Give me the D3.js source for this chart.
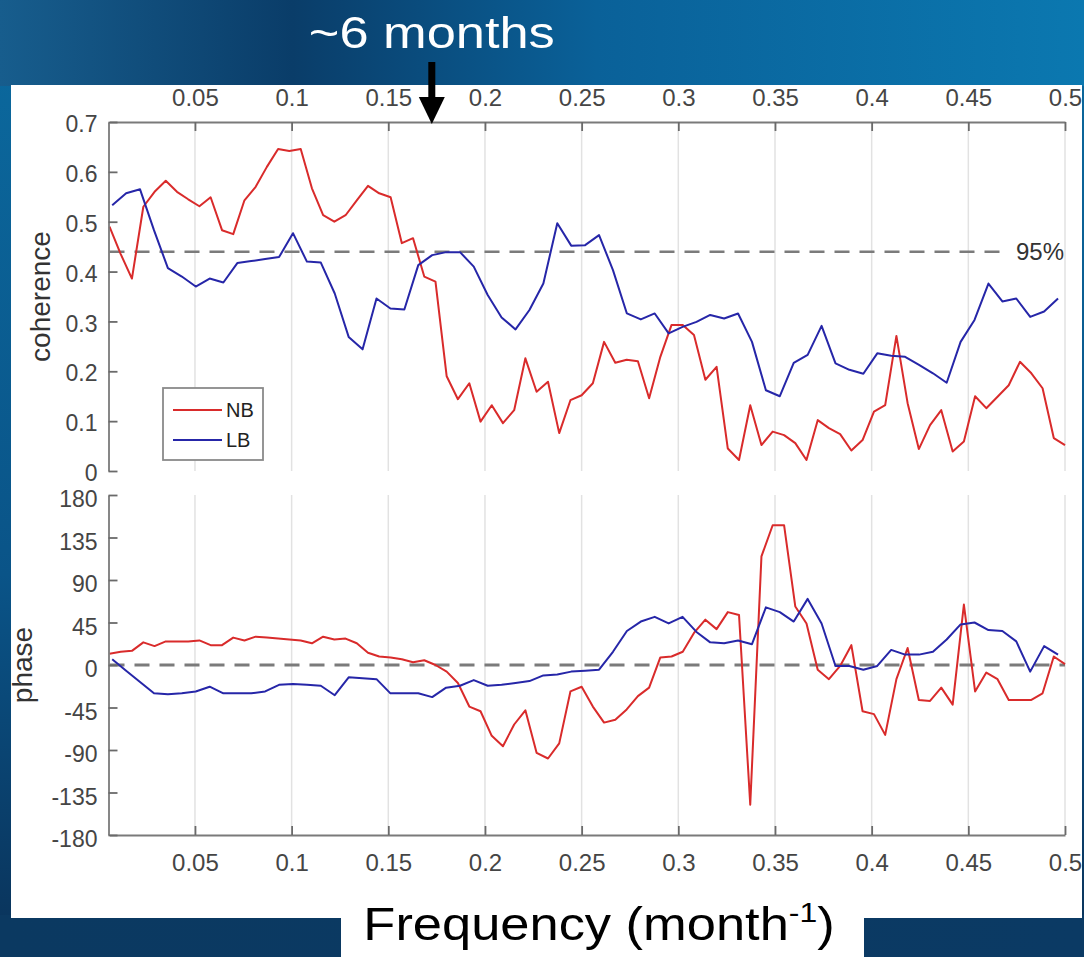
<!DOCTYPE html>
<html>
<head>
<meta charset="utf-8">
<script src="https://cdn.jsdelivr.net/npm/d3@7"></script>
<style>
  body { margin: 0; background: #0a4a7a; }
  svg { display: block; }
</style>
</head>
<body>
<svg id="chart" width="1084" height="957"></svg>
<script>
// frequencies (month^-1) of the two estimates
const nbFreq = [0.0058, 0.0116, 0.0174, 0.0233, 0.0291, 0.0349, 0.0407, 0.0465, 0.0523, 0.0581,
  0.0640, 0.0698, 0.0756, 0.0814, 0.0872, 0.0930, 0.0988, 0.1047, 0.1105, 0.1163,
  0.1221, 0.1279, 0.1337, 0.1395, 0.1453, 0.1512, 0.1570, 0.1628, 0.1686, 0.1744,
  0.1802, 0.1860, 0.1919, 0.1977, 0.2035, 0.2093, 0.2151, 0.2209, 0.2267, 0.2326,
  0.2384, 0.2442, 0.2500, 0.2558, 0.2616, 0.2674, 0.2733, 0.2791, 0.2849, 0.2907,
  0.2965, 0.3023, 0.3081, 0.3140, 0.3198, 0.3256, 0.3314, 0.3372, 0.3430, 0.3488,
  0.3547, 0.3605, 0.3663, 0.3721, 0.3779, 0.3837, 0.3895, 0.3953, 0.4012, 0.4070,
  0.4128, 0.4186, 0.4244, 0.4302, 0.4360, 0.4419, 0.4477, 0.4535, 0.4593, 0.4651,
  0.4709, 0.4767, 0.4826, 0.4884, 0.4942, 0.5000];
const lbFreq = [0.0072, 0.0144, 0.0216, 0.0288, 0.0360, 0.0432, 0.0504, 0.0576, 0.0647, 0.0719,
  0.0791, 0.0863, 0.0935, 0.1007, 0.1079, 0.1151, 0.1223, 0.1295, 0.1367, 0.1439,
  0.1511, 0.1583, 0.1655, 0.1727, 0.1799, 0.1871, 0.1942, 0.2014, 0.2086, 0.2158,
  0.2230, 0.2302, 0.2374, 0.2446, 0.2518, 0.2590, 0.2662, 0.2734, 0.2806, 0.2878,
  0.2950, 0.3022, 0.3094, 0.3165, 0.3237, 0.3309, 0.3381, 0.3453, 0.3525, 0.3597,
  0.3669, 0.3741, 0.3813, 0.3885, 0.3957, 0.4029, 0.4101, 0.4173, 0.4245, 0.4317,
  0.4388, 0.4460, 0.4532, 0.4604, 0.4676, 0.4748, 0.4820, 0.4892, 0.4964];

// coherence
const nbCoh = [0.49, 0.435, 0.386, 0.53, 0.56, 0.582, 0.56, 0.545, 0.531, 0.549,
  0.483, 0.475, 0.543, 0.57, 0.61, 0.646, 0.642, 0.646, 0.567, 0.513,
  0.50, 0.513, 0.543, 0.572, 0.557, 0.549, 0.457, 0.467, 0.39, 0.38,
  0.19, 0.144, 0.176, 0.099, 0.132, 0.096, 0.122, 0.226, 0.159, 0.179,
  0.076, 0.142, 0.152, 0.176, 0.259, 0.217, 0.223, 0.22, 0.146, 0.229,
  0.293, 0.293, 0.273, 0.183, 0.209, 0.045, 0.022, 0.132, 0.052, 0.079,
  0.072, 0.056, 0.022, 0.102, 0.086, 0.074, 0.041, 0.062, 0.119, 0.132,
  0.271, 0.136, 0.044, 0.092, 0.122, 0.039, 0.059, 0.150, 0.126, 0.149,
  0.172, 0.219, 0.196, 0.166, 0.066, 0.052];
const lbCoh = [0.533, 0.557, 0.565, 0.483, 0.407, 0.39, 0.37, 0.386, 0.378, 0.417,
  0.421, 0.425, 0.429, 0.477, 0.42, 0.418, 0.356, 0.269, 0.244, 0.346,
  0.326, 0.324, 0.413, 0.433, 0.439, 0.439, 0.41, 0.353, 0.308, 0.284,
  0.323, 0.376, 0.497, 0.452, 0.453, 0.473, 0.403, 0.316, 0.304, 0.316,
  0.276, 0.289, 0.299, 0.313, 0.306, 0.316, 0.259, 0.162, 0.150, 0.217,
  0.233, 0.291, 0.216, 0.203, 0.195, 0.236, 0.231, 0.229, 0.213, 0.196,
  0.177, 0.259, 0.303, 0.376, 0.34, 0.346, 0.309, 0.32, 0.346];

// phase (degrees)
const nbPhase = [12, 14, 15, 24, 20, 25, 25, 25, 26, 21,
  21, 29, 26, 30, 29, 28, 27, 26, 23, 30,
  27, 28, 23, 13, 9, 8, 6, 3, 5, 0,
  -7, -19, -44, -49, -75, -86, -63, -48, -93, -99,
  -83, -28, -23, -44, -61, -58, -47, -33, -24, 8,
  9, 14, 34, 48, 38, 56, 53, -148, 115, 148,
  148, 62, 44, -5, -15, -1, 21, -49, -52, -74,
  -15, 18, -37, -38, -24, -42, 64, -28, -8, -15,
  -37, -37, -37, -30, 9, 1];
const lbPhase = [6, -6, -18, -30, -31, -30, -28, -23, -30, -30,
  -30, -28, -21, -20, -21, -22, -32, -13, -14, -15,
  -30, -30, -30, -34, -24, -22, -16, -22, -21, -19,
  -17, -11, -10, -7, -6, -5, 14, 36, 46, 51,
  44, 51, 35, 24, 23, 26, 22, 61, 56, 46,
  70, 44, -1, -1, -5, -1, 16, 11, 11, 14,
  27, 43, 45, 37, 36, 25, -7, 20, 11];

const seriesNames = ["NB", "LB"];
const xTicks = [0.05, 0.1, 0.15, 0.2, 0.25, 0.3, 0.35, 0.4, 0.45, 0.5];
const cohTicks = [0, 0.1, 0.2, 0.3, 0.4, 0.5, 0.6, 0.7];
const phaseTicks = [-180, -135, -90, -45, 0, 45, 90, 135, 180];
const sigLevel = 0.44;        // 95% coherence level
const sigLabel = "95%";
const arrowFreq = 0.1725;     // ~6 months marker

const colors = { NB: "#d92b2b", LB: "#2626a8" };
const font = "'Liberation Sans', Arial, sans-serif";

const svg = d3.select("#chart");
const defs = svg.append("defs");

//background
let bgV = defs.append("linearGradient").attr("id", "bgV")
  .attr("x1", 0).attr("y1", 0).attr("x2", 0).attr("y2", 1);
bgV.append("stop").attr("offset", 0).attr("stop-color", "#0b6a9f");
bgV.append("stop").attr("offset", 0.6).attr("stop-color", "#0a5488");
bgV.append("stop").attr("offset", 1).attr("stop-color", "#0a3259");
let bgTop = defs.append("linearGradient").attr("id", "bgTop")
  .attr("x1", 0).attr("y1", 0).attr("x2", 1).attr("y2", 0);
bgTop.append("stop").attr("offset", 0).attr("stop-color", "#175d8d");
bgTop.append("stop").attr("offset", 0.27).attr("stop-color", "#0a3d69");
bgTop.append("stop").attr("offset", 0.55).attr("stop-color", "#0a6199");
bgTop.append("stop").attr("offset", 1).attr("stop-color", "#0b78b0");
let bgBot = defs.append("linearGradient").attr("id", "bgBot")
  .attr("x1", 0).attr("y1", 0).attr("x2", 1).attr("y2", 0);
bgBot.append("stop").attr("offset", 0).attr("stop-color", "#0b3961");
bgBot.append("stop").attr("offset", 1).attr("stop-color", "#0b3a64");

svg.append("rect").attr("width", 1084).attr("height", 957).attr("fill", "url(#bgV)");
svg.append("rect").attr("width", 1084).attr("height", 86).attr("fill", "url(#bgTop)");
svg.append("rect").attr("y", 915).attr("width", 1084).attr("height", 42).attr("fill", "url(#bgBot)");

// white panels
svg.append("rect").attr("x", 11).attr("y", 85).attr("width", 1071).attr("height", 833).attr("fill", "#fff");
svg.append("rect").attr("x", 341).attr("y", 910).attr("width", 523).attr("height", 47).attr("fill", "#fff");

// scales
const x = d3.scaleLinear().domain([0.0058, 0.5]).range([109.5, 1065]);
const yCoh = d3.scaleLinear().domain([0, 0.7]).range([471, 122]);
const yPh = d3.scaleLinear().domain([-180, 180]).range([835, 495]);

//grid lines
let drawGrid = (y0, y1) => {
  svg.append("g").selectAll("line").data(xTicks).join("line")
    .attr("x1", d => x(d)).attr("x2", d => x(d))
    .attr("y1", y0).attr("y2", y1)
    .attr("stroke", "#e2e2e2").attr("stroke-width", 1.5);
};
drawGrid(yCoh(0.7), yCoh(0));
drawGrid(yPh(180), yPh(-180));

// dashed reference lines
svg.append("line")
  .attr("x1", x.range()[0]).attr("x2", x(0.468))
  .attr("y1", yCoh(sigLevel)).attr("y2", yCoh(sigLevel))
  .attr("stroke", "#7b7b7b").attr("stroke-width", 2.5).attr("stroke-dasharray", "15,10");
svg.append("text")
  .attr("x", x(0.5) - 1).attr("y", yCoh(sigLevel)).attr("dy", "0.36em")
  .attr("text-anchor", "end").attr("font-family", font).attr("font-size", 24)
  .attr("fill", "#333").text(sigLabel);
svg.append("line")
  .attr("x1", x.range()[0]).attr("x2", x(0.5))
  .attr("y1", yPh(0)).attr("y2", yPh(0))
  .attr("stroke", "#7b7b7b").attr("stroke-width", 3).attr("stroke-dasharray", "15,10");

// data lines
const cohLine = d3.line().x(d => x(d[0])).y(d => yCoh(d[1]));
const phLine = d3.line().x(d => x(d[0])).y(d => yPh(d[1]));
const series = [
  { name: "NB", freq: nbFreq, coh: nbCoh, ph: nbPhase },
  { name: "LB", freq: lbFreq, coh: lbCoh, ph: lbPhase }
];
series.forEach(s => {
  svg.append("path").datum(d3.zip(s.freq, s.coh))
    .attr("d", cohLine).attr("fill", "none")
    .attr("stroke", colors[s.name]).attr("stroke-width", 2).attr("stroke-linejoin", "round");
  svg.append("path").datum(d3.zip(s.freq, s.ph))
    .attr("d", phLine).attr("fill", "none")
    .attr("stroke", colors[s.name]).attr("stroke-width", 2).attr("stroke-linejoin", "round");
});

//axes
let styleAxis = (size) => (g) => {
  g.select(".domain").attr("stroke", "#7a7a7a").attr("stroke-width", 1.8);
  g.selectAll(".tick line").attr("stroke", "#6a6a6a").attr("stroke-width", 1.8);
  g.selectAll("text").attr("fill", "#454545").attr("font-family", font).attr("font-size", size);
};

svg.append("g").attr("transform", "translate(0," + yCoh(0.7) + ")")
  .call(d3.axisTop(x).tickValues(xTicks).tickFormat(d => String(d))
    .tickSizeInner(-9).tickSizeOuter(0).tickPadding(16))
  .call(styleAxis(24));
svg.append("g").attr("transform", "translate(" + (x.range()[0] - 1) + ",0)")
  .call(d3.axisLeft(yCoh).tickValues(cohTicks).tickFormat(d => String(d))
    .tickSizeInner(-9).tickSizeOuter(0).tickPadding(11))
  .call(styleAxis(23))
  .call(g => g.selectAll(".tick text").attr("dy", "0.42em"));
svg.append("g").attr("transform", "translate(0," + yPh(-180) + ")")
  .call(d3.axisBottom(x).tickValues(xTicks).tickFormat(d => String(d))
    .tickSizeInner(-9).tickSizeOuter(0).tickPadding(19))
  .call(styleAxis(24));
svg.append("g").attr("transform", "translate(" + (x.range()[0] - 1) + ",0)")
  .call(d3.axisLeft(yPh).tickValues(phaseTicks).tickFormat(d => String(d))
    .tickSizeInner(-9).tickSizeOuter(0).tickPadding(11))
  .call(styleAxis(23))
  .call(g => g.selectAll(".tick text").attr("dy", "0.5em"));

// y titles
svg.append("text")
  .attr("transform", "translate(40," + yCoh(0.35) + ") rotate(-90)")
  .attr("dy", "0.35em").attr("text-anchor", "middle")
  .attr("font-family", font).attr("font-size", 28).attr("fill", "#333")
  .text("coherence");
svg.append("text")
  .attr("transform", "translate(22," + yPh(0) + ") rotate(-90)")
  .attr("dy", "0.35em").attr("text-anchor", "middle")
  .attr("font-family", font).attr("font-size", 28).attr("fill", "#333")
  .text("phase");

//legend
const legend = svg.append("g").attr("transform", "translate(163,388)");
legend.append("rect").attr("width", 100).attr("height", 72)
  .attr("fill", "#fff").attr("stroke", "#8a8a8a").attr("stroke-width", 1.8);
seriesNames.forEach((name, i) => {
  legend.append("line")
    .attr("x1", 10).attr("x2", 59).attr("y1", 22 + i * 30).attr("y2", 22 + i * 30)
    .attr("stroke", colors[name]).attr("stroke-width", 2);
  legend.append("text")
    .attr("x", 63).attr("y", 22 + i * 30).attr("dy", "0.36em")
    .attr("font-family", font).attr("font-size", 20).attr("fill", "#222")
    .text(name);
});

// annotation: ~6 months arrow
svg.append("text")
  .attr("x", x(arrowFreq)).attr("y", 48).attr("text-anchor", "middle")
  .attr("font-family", font).attr("font-size", 45).attr("fill", "#fff")
  .attr("textLength", 246).attr("lengthAdjust", "spacingAndGlyphs")
  .text("~6 months");
svg.append("line")
  .attr("x1", x(arrowFreq)).attr("x2", x(arrowFreq))
  .attr("y1", 62).attr("y2", 100)
  .attr("stroke", "#000").attr("stroke-width", 7);
svg.append("path")
  .attr("d", d3.line()([[x(arrowFreq) - 13, 97], [x(arrowFreq) + 13, 97], [x(arrowFreq), 124]]))
  .attr("fill", "#000");

// x title (stretched a little, like the slide text)
const xt = svg.append("g").attr("transform", "translate(599,940) scale(1.14,1)")
  .append("text").attr("text-anchor", "middle")
  .attr("font-family", font).attr("font-size", 46).attr("fill", "#000");
xt.append("tspan").text("Frequency (month");
xt.append("tspan").attr("font-size", 28).attr("dy", -18).text("-1");
xt.append("tspan").attr("dy", 18).text(")");
</script>
</body>
</html>
